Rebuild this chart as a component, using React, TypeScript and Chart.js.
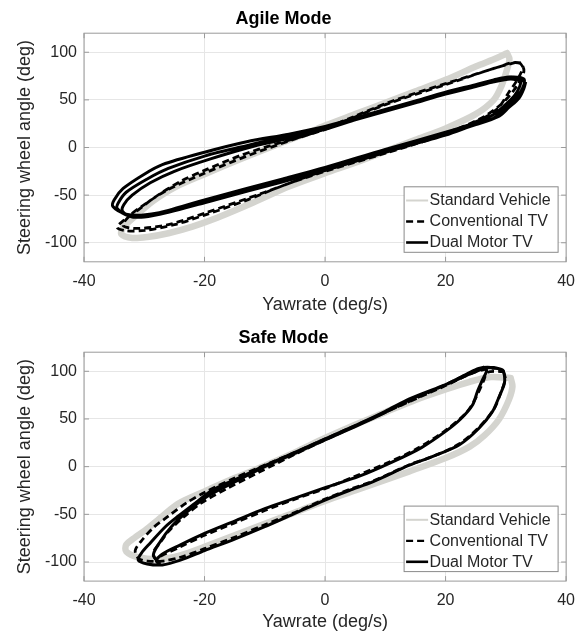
import React, { useEffect, useRef } from 'react';
import { Chart, registerables } from 'chart.js';
Chart.register(...registerables);

const FONT = "'Liberation Sans', Arial, Helvetica, sans-serif";

// ---- axes ----
const xTickValues = [-40, -20, 0, 20, 40];
const yTickValues = [-100, -50, 0, 50, 100];
const xRange = [-40, 40];
const yRange = [-120, 120];
const seriesLabels = ['Standard Vehicle', 'Conventional TV', 'Dual Motor TV'];
const chartTitles = ['Agile Mode', 'Safe Mode'];
const xAxisTitle = 'Yawrate (deg/s)';
const yAxisTitle = 'Steering wheel angle (deg)';

// ---- Agile Mode ----
const agileStdX = [30.2, 30.6, 30.2, 29.3, 28, 25, 20, 15, 10, 5, 0, -6, -12, -18, -22, -26, -29.5, -32, -33.8, -33.5, -31.5, -28.5, -25, -20, -14, -8, -3, 0, 5, 10, 15, 20, 25, 28.5, 30.2];
const agileStdY = [99, 93, 82, 65, 50, 35, 20, 8, -4, -16, -27, -41, -58, -74, -83, -90, -94, -95, -91, -84, -72, -56, -42, -28, -12, 3, 15, 23, 35, 47, 59, 71, 85, 94, 99];

const agileConvX = [
  32.2, 32.8, 31.8, 30.5, 28.5, 25, 20, 10, 0, -7, -13.3, -20, -25, -29.9, -33, -34.5, -33.5, -31.5, -28.2, -23.8, -20, -13.9, -8, -3, 0, 5, 10, 15, 20, 25, 29, 31,
  32.5, 33, 32, 29.5, 26, 20, 10, 0, -10, -20, -26, -31, -33.5, -32.5, -30, -26, -20, -13, -5, 0, 10, 20, 28, 31.5,
];
const agileConvY = [
  90, 84, 70, 58, 40, 27, 14, -6, -25, -40, -56, -71, -81, -87, -87.5, -84, -77, -68, -52, -35, -24, -8, 4, 13, 20, 33, 46, 57, 67, 77, 85, 89,
  88, 80, 66, 47, 31, 15, -5, -24, -47, -69, -81, -85, -82, -72, -60, -44, -27, -9, 9, 19, 45, 66, 83, 89,
];

const agileDualX = [
  33.3, 33, 32.2, 30.5, 28.9, 25, 20, 10, 0, -7, -13.3, -20, -27, -30.5, -33, -35.2, -35, -33.5, -30, -27, -20, -13, -6, 0, 5, 10, 15, 20, 25, 28, 31, 33,
  33, 32.5, 31.5, 29.8, 28, 24, 20, 10, 0, -7, -13, -20, -26, -30, -32.5, -34.5, -34.3, -33, -29.5, -26, -20, -13, -6, 0, 5, 10, 15, 20, 25, 28, 30.8, 32.7,
  32.6, 32.3, 31.4, 29.6, 27.8, 24, 20, 10, 0, -7, -13, -20, -26, -30, -32, -33.6, -33.4, -32, -29, -25, -19, -12, -5, 0, 5, 10, 15, 20, 25, 28, 30.5, 32.6,
];
const agileDualY = [
  69, 62, 52, 42, 33, 24, 15, -3, -22, -34, -44, -57, -68, -71, -70, -62, -55, -43, -28, -18, -5, 6, 14, 22, 31, 40, 49, 58, 66, 71, 74, 72,
  66, 59, 50, 40, 31, 22, 13, -5, -24, -36, -46, -58, -68, -73, -72, -64, -58, -47, -33, -22, -9, 2, 12, 20, 29, 38, 47, 56, 64, 69, 72, 70,
  72, 64, 54, 43, 34, 24, 16, -2, -21, -33, -43, -55, -66, -72, -73, -67, -60, -50, -37, -25, -12, 1, 11, 19, 29, 39, 48, 57, 66, 71, 74, 72,
];

// ---- Safe Mode ----
const safeStdX = [30.8, 31.1, 30.5, 28.9, 26.5, 24, 20, 14, 10, 5, 0, -5, -10, -15, -20, -24, -27.5, -31, -33, -33, -31.5, -29.9, -27, -24.4, -20, -15, -10, -5, 0, 5, 10, 15, 20, 24, 27.5, 30.8];
const safeStdY = [93, 84, 70, 50, 33, 21, 9, -5, -14, -25, -36, -48, -60, -72, -84, -93, -97, -95, -89, -82, -74, -67, -52, -39, -26, -12, 1, 15, 30, 44, 57, 70, 81, 89, 94, 93];

const safeConvX = [
  29.6, 29.9, 29.2, 28, 25.5, 22.3, 18, 14, 8, 4, 0, -5, -10, -15, -20, -24, -27, -29.5, -31, -31.5, -30.5, -28.5, -26, -23, -20, -15, -11, -5, 0, 5.7, 10, 15, 20, 24, 26.5, 28.5, 29.6,
  27, 26.3, 25, 23.5, 20, 15, 10, 5, 0, -5, -10, -15, -20, -24, -27, -28, -28.5, -27.4, -26, -23.5, -20.5, -16, -11, -5, 0, 10, 20, 24, 26.5,
];
const safeConvY = [
  100, 92, 78, 60, 41, 24, 11, 2, -15, -24, -34, -48, -61, -74, -86, -95, -99, -99, -96, -88, -78, -64, -52, -38, -27, -12, -1, 15, 29, 45, 57, 71, 85, 97, 102, 103, 100,
  99, 90, 72, 57, 38, 18, 3, -10, -23, -34, -46, -59, -72, -84, -93, -97, -90, -80, -68, -53, -38, -22, -6, 13, 28, 57, 86, 98, 104,
];

const safeDualX = [
  26.1, 26.8, 26.2, 25.3, 24.5, 22.5, 20, 16, 11.2, 5.7, 0, -5, -10, -15, -20, -24, -27.1, -28, -27.5, -28.5, -27.5, -25.5, -23, -19.5, -15, -10, -5, 0, 5.7, 10, 14, 20, 23.5, 25.5, 27.5,
  29.4, 29.8, 29.7, 28.8, 27.8, 25.5, 22.3, 18, 14, 7.9, 4, 0, -5, -10, -15, -20, -24, -27, -29.5, -31, -30.4, -29, -26.5, -24.4, -21.5, -18.8, -14, -10, -5, 0, 5.7, 10, 14, 20, 24, 26.5, 28, 29.4,
];
const safeDualY = [
  105, 101, 92, 79, 65, 50, 37, 20, 5, -10, -22, -33, -44, -57, -70, -82, -92, -99, -101, -93, -80, -63, -48, -31, -16, 0, 14, 28, 44, 57, 70, 86, 97, 103, 104,
  101.5, 94, 86, 72, 58, 40, 23, 11, 1.5, -16, -25, -35, -49, -63, -76, -88, -98, -103, -102, -98, -90, -80, -63, -52, -38, -25, -11, 1, 15, 29, 45, 58, 71, 86, 97, 103, 104, 101.5,
];

const zip = (xs: number[], ys: number[]) => xs.map((x, i) => ({ x, y: ys[i] }));

const STD_COLOR = '#d4d4cf';
const BORDER_COLOR = '#9a9a9a';
const TEXT_COLOR = '#262626';

const frameAndLegend = {
  id: 'frameAndLegend',
  afterDraw(chart: any) {
    const { ctx, chartArea: a, scales } = chart;
    ctx.save();
    ctx.strokeStyle = BORDER_COLOR;
    ctx.lineWidth = 1;
    ctx.strokeRect(a.left, a.top, a.right - a.left, a.bottom - a.top);
    const tl = 5;
    ctx.beginPath();
    xTickValues.forEach((v) => {
      const p = scales.x.getPixelForValue(v);
      ctx.moveTo(p, a.bottom); ctx.lineTo(p, a.bottom - tl);
      ctx.moveTo(p, a.top); ctx.lineTo(p, a.top + tl);
    });
    yTickValues.forEach((v) => {
      const p = scales.y.getPixelForValue(v);
      ctx.moveTo(a.left, p); ctx.lineTo(a.left + tl, p);
      ctx.moveTo(a.right, p); ctx.lineTo(a.right - tl, p);
    });
    ctx.stroke();

    const w = 154, h = 65.5;
    const right = a.right - 8, bottom = a.bottom - 9.5;
    const left = right - w, top = bottom - h;
    ctx.fillStyle = '#ffffff';
    ctx.fillRect(left, top, w, h);
    ctx.strokeStyle = '#8a8a8a';
    ctx.strokeRect(left, top, w, h);
    const sampleWidths = [2, 2.3, 2.6];
    chart.data.datasets.forEach((ds: any, i: number) => {
      const y = top + 13.7 + i * 21;
      ctx.beginPath();
      ctx.setLineDash(ds.borderDash || []);
      ctx.strokeStyle = ds.borderColor;
      ctx.lineWidth = sampleWidths[i];
      ctx.moveTo(left + 2, y);
      ctx.lineTo(left + 24, y);
      ctx.stroke();
      ctx.setLineDash([]);
      ctx.fillStyle = TEXT_COLOR;
      ctx.font = `16px ${FONT}`;
      ctx.textAlign = 'left';
      ctx.textBaseline = 'middle';
      ctx.fillText(ds.label, left + 25.5, y + 0.5);
    });
    ctx.restore();
  },
};

type Props = {
  title: string;
  std: { x: number; y: number }[];
  conv: { x: number; y: number }[];
  dual: { x: number; y: number }[];
  height: number;
  plotBottom: number;
  xTitleBottomPad: number;
};

function ModeChart({ title, std, conv, dual, height, plotBottom, xTitleBottomPad }: Props) {
  const ref = useRef<HTMLCanvasElement>(null);
  useEffect(() => {
    const chart = new Chart(ref.current as HTMLCanvasElement, {
      type: 'scatter',
      data: {
        datasets: [
          { label: seriesLabels[0], data: std, showLine: true, borderColor: STD_COLOR, borderWidth: 6.5, pointRadius: 0, tension: 0.3, order: 3, borderCapStyle: 'round', borderJoinStyle: 'round' } as any,
          { label: seriesLabels[1], data: conv, showLine: true, borderColor: '#000000', borderWidth: 2.8, borderDash: [7, 4], pointRadius: 0, tension: 0.3, order: 2 } as any,
          { label: seriesLabels[2], data: dual, showLine: true, borderColor: '#000000', borderWidth: 3, pointRadius: 0, tension: 0.3, order: 1, borderJoinStyle: 'round' } as any,
        ],
      },
      options: {
        responsive: false,
        animation: false,
        events: [],
        layout: { padding: { left: 0, right: 18, top: 0, bottom: 0 } },
        plugins: {
          legend: { display: false },
          tooltip: { enabled: false },
          title: {
            display: true,
            text: title,
            color: '#000000',
            font: { family: FONT, size: 18, weight: 'bold' },
            padding: { top: 8.7, bottom: 2.9 },
          },
        },
        scales: {
          x: {
            type: 'linear',
            min: xRange[0],
            max: xRange[1],
            afterBuildTicks: (s: any) => { s.ticks = xTickValues.map((v) => ({ value: v })); },
            afterFit: (s: any) => { s.height = height - plotBottom; },
            ticks: { padding: 10, color: TEXT_COLOR, font: { family: FONT, size: 16 }, includeBounds: false },
            grid: { color: '#e6e6e6', lineWidth: 1, drawTicks: false },
            border: { display: false },
            title: {
              display: true,
              text: xAxisTitle,
              color: TEXT_COLOR,
              font: { family: FONT, size: 18 },
              padding: { top: 0, bottom: xTitleBottomPad },
            },
          },
          y: {
            type: 'linear',
            min: yRange[0],
            max: yRange[1],
            afterBuildTicks: (s: any) => { s.ticks = yTickValues.map((v) => ({ value: v })); },
            afterFit: (s: any) => { s.width = 84; },
            ticks: { padding: 7, color: TEXT_COLOR, font: { family: FONT, size: 16 }, includeBounds: false },
            grid: { color: '#e6e6e6', lineWidth: 1, drawTicks: false },
            border: { display: false },
            title: {
              display: true,
              text: yAxisTitle,
              color: TEXT_COLOR,
              font: { family: FONT, size: 18 },
              padding: { top: 14, bottom: 0 },
            },
          },
        },
      } as any,
      plugins: [frameAndLegend],
    });
    return () => chart.destroy();
  }, []);
  return <canvas ref={ref} width={585} height={height} style={{ display: 'block', width: 585, height }} />;
}

export default function App() {
  useEffect(() => {
    document.body.style.margin = '0';
  }, []);
  return (
    <div style={{ position: 'absolute', left: 0, top: 0, width: 585, height: 635, overflow: 'hidden', background: '#ffffff' }}>
      <ModeChart
        title={chartTitles[0]}
        std={zip(agileStdX, agileStdY)}
        conv={zip(agileConvX, agileConvY)}
        dual={zip(agileDualX, agileDualY)}
        height={319}
        plotBottom={261.8}
        xTitleBottomPad={3.2}
      />
      <ModeChart
        title={chartTitles[1]}
        std={zip(safeStdX, safeStdY)}
        conv={zip(safeConvX, safeConvY)}
        dual={zip(safeDualX, safeDualY)}
        height={316}
        plotBottom={262.1}
        xTitleBottomPad={1.7}
      />
    </div>
  );
}
